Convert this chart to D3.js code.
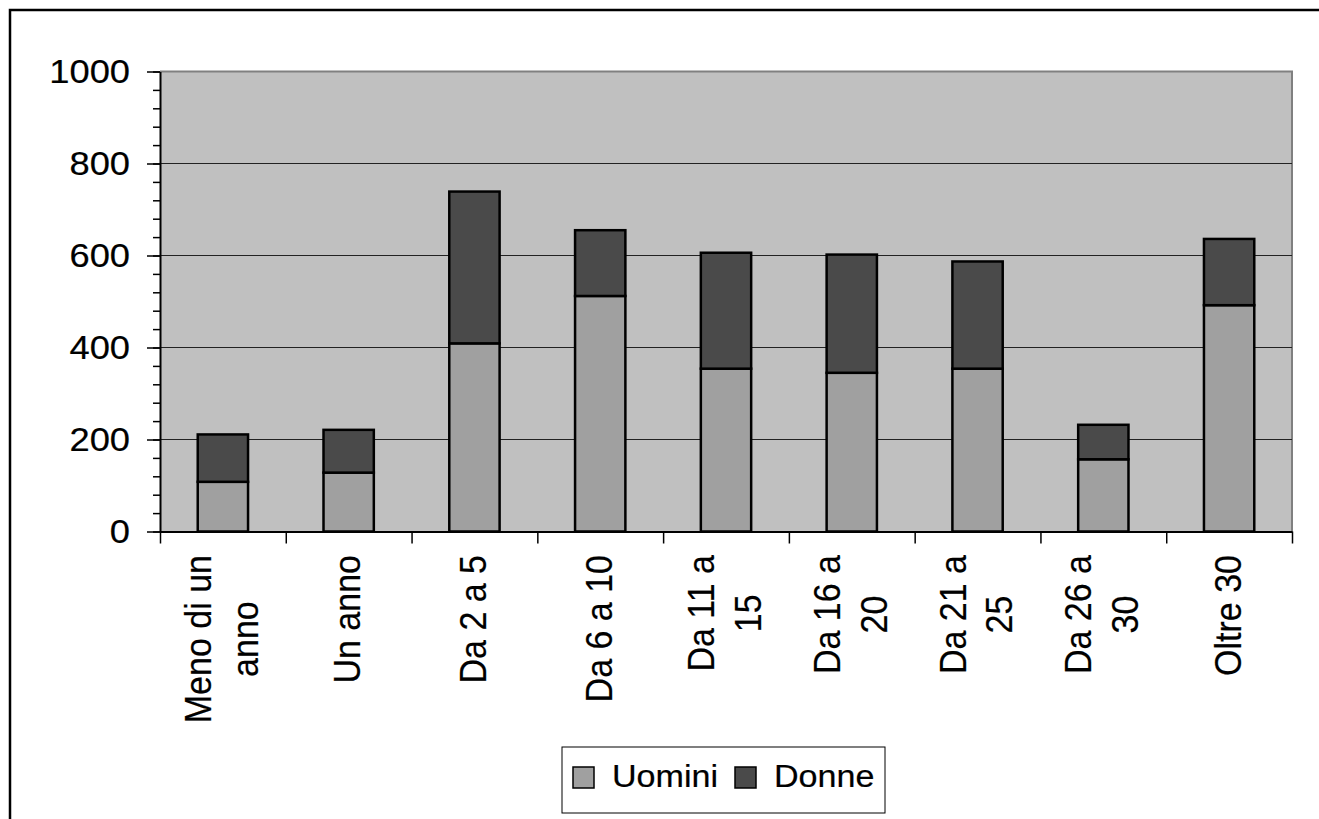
<!DOCTYPE html>
<html>
<head>
<meta charset="utf-8">
<script src="https://cdn.jsdelivr.net/npm/d3@7"></script>
<style>
  body { margin: 0; background: #fff; }
  text { font-family: "Liberation Sans", Arial, sans-serif; fill: #000; }
</style>
</head>
<body>
<svg id="chart" width="1319" height="819"></svg>
<script>
// data
const categories = ["Meno di un\nanno", "Un anno", "Da 2 a 5", "Da 6 a 10", "Da 11 a\n15", "Da 16 a\n20", "Da 21 a\n25", "Da 26 a\n30", "Oltre 30"];
const uomini = [108, 128, 409, 512, 354, 345, 354, 157, 492];
const donne = [103, 93, 330, 143, 252, 257, 233, 75, 144];
const seriesNames = ["Uomini", "Donne"];
const seriesColors = ["#a0a0a0", "#4a4a4a"];
const yTicks = [0, 200, 400, 600, 800, 1000];

const svg = d3.select("#chart");
const plot = {left: 160, right: 1292, top: 71.5, bottom: 531.5};

// outer chart frame (cut by the picture on right / bottom)
svg.append("rect")
    .attr("x", 10).attr("y", 10)
    .attr("width", 1400).attr("height", 900)
    .attr("fill", "none").attr("stroke", "#000").attr("stroke-width", 2.5);

const y = d3.scaleLinear().domain([0, 1000]).range([plot.bottom, plot.top]);
const x = d3.scaleBand()
    .domain(d3.range(categories.length))
    .range([plot.left, plot.right])
    .paddingInner(0.6)
    .paddingOuter(0.3);
const xEdge = d3.scaleLinear().domain([0, categories.length]).range([plot.left, plot.right]);

// plot background
svg.append("rect")
    .attr("x", plot.left).attr("y", plot.top)
    .attr("width", plot.right - plot.left).attr("height", plot.bottom - plot.top)
    .attr("fill", "#c0c0c0");
svg.append("path")
    .attr("d", `M${plot.left},${plot.top}H${plot.right}V${plot.bottom}`)
    .attr("fill", "none").attr("stroke", "#808080").attr("stroke-width", 2);

// gridlines
svg.append("g")
    .selectAll("line")
    .data(yTicks.filter(d => d > 0 && d < 1000))
    .join("line")
    .attr("x1", plot.left).attr("x2", plot.right)
    .attr("y1", d => y(d)).attr("y2", d => y(d))
    .attr("stroke", "#222").attr("stroke-width", 1.2);

// stacked bars
const rows = categories.map((c, i) => ({i: i, Uomini: uomini[i], Donne: donne[i]}));
const stacked = d3.stack().keys(seriesNames)(rows);
svg.append("g")
    .selectAll("g")
    .data(stacked)
    .join("g")
    .attr("fill", (d, k) => seriesColors[k])
    .selectAll("rect")
    .data(d => d)
    .join("rect")
    .attr("x", d => x(d.data.i))
    .attr("y", d => y(d[1]))
    .attr("width", x.bandwidth())
    .attr("height", d => y(d[0]) - y(d[1]))
    .attr("stroke", "#000")
    .attr("stroke-width", 2.5);

// y axis: minor + major ticks
svg.append("g")
    .attr("transform", `translate(${plot.left},0)`)
    .call(d3.axisLeft(y).tickValues(d3.range(0, 1001, 40)).tickSize(7).tickFormat(""))
    .call(g => g.select(".domain").remove())
    .selectAll("line").attr("stroke", "#000").attr("stroke-width", 1.5);
svg.append("g")
    .attr("transform", `translate(${plot.left},0)`)
    .call(d3.axisLeft(y).tickValues(yTicks).tickSize(13).tickSizeOuter(0).tickFormat(""))
    .call(g => g.select(".domain").attr("stroke", "#000").attr("stroke-width", 2))
    .selectAll("line").attr("stroke", "#000").attr("stroke-width", 1.5);

svg.append("g")
    .selectAll("text")
    .data(yTicks)
    .join("text")
    .attr("transform", d => `translate(${plot.left - 30},${y(d)}) scale(1.1,1)`)
    .attr("text-anchor", "end")
    .attr("dy", "0.36em")
    .attr("font-size", 33)
    .attr("stroke", "#000").attr("stroke-width", 0.2)
    .text(d => d);

// x axis
svg.append("g")
    .attr("transform", `translate(0,${plot.bottom})`)
    .call(d3.axisBottom(xEdge).tickValues(d3.range(categories.length + 1)).tickSize(12).tickSizeOuter(0).tickFormat(""))
    .call(g => g.select(".domain").attr("stroke", "#000").attr("stroke-width", 2))
    .selectAll("line").attr("stroke", "#000").attr("stroke-width", 1.5);

// rotated category labels
const labelSize = 34, lineH = 1.25 * labelSize, stretch = 1.1;
const labels = svg.append("g")
    .selectAll("g")
    .data(categories)
    .join("g")
    .attr("transform", (d, i) => `translate(${x(i) + x.bandwidth() / 2 - 2},555) rotate(-90) scale(1,${stretch})`);
labels.each(function (d) {
    const g = d3.select(this);
    const lines = d.split("\n");
    const b1 = -((lines.length - 1) * lineH - 0.716 * labelSize) / 2;
    const t = g.selectAll("text")
        .data(lines)
        .join("text")
        .attr("font-size", labelSize)
        .attr("stroke", "#000").attr("stroke-width", 0.2)
        .attr("y", (l, j) => b1 + j * lineH)
        .text(l => l);
    const w = d3.max(t.nodes(), n => n.getComputedTextLength());
    t.attr("x", -w / 2).attr("text-anchor", "middle");
});

// legend
const legend = svg.append("g");
legend.append("rect")
    .attr("x", 562).attr("y", 747).attr("width", 323).attr("height", 66)
    .attr("fill", "#fff").attr("stroke", "#000").attr("stroke-width", 1);
const legendX = [573, 735];
seriesNames.forEach((name, k) => {
    legend.append("rect")
        .attr("x", legendX[k]).attr("y", 767).attr("width", 21).attr("height", 21)
        .attr("fill", seriesColors[k]).attr("stroke", "#000").attr("stroke-width", 1.5);
    legend.append("text")
        .attr("transform", `translate(${legendX[k] + 39},787) scale(1.1,1)`)
        .attr("font-size", 31)
        .attr("stroke", "#000").attr("stroke-width", 0.2)
        .text(name);
});
</script>
</body>
</html>
